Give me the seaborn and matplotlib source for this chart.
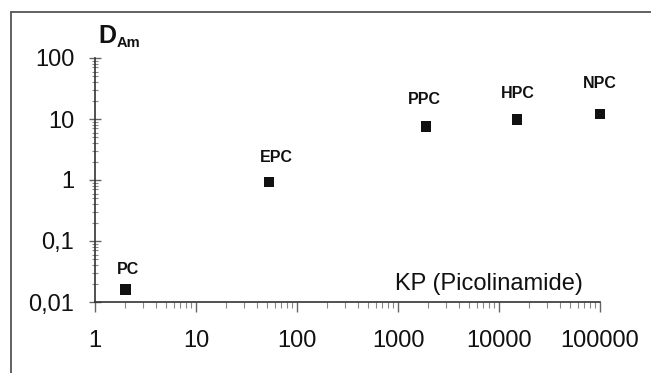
import numpy as np
import pandas as pd
import matplotlib
matplotlib.use('Agg')
import matplotlib.pyplot as plt
import seaborn as sns
from matplotlib.lines import Line2D
from matplotlib.ticker import FixedLocator, FixedFormatter, LogLocator, NullFormatter

# values
ligands = ['PC', 'EPC', 'PPC', 'HPC', 'NPC']
kp = [2, 53, 1900, 15000, 100000]
d_am = [0.016, 0.93, 7.5, 9.8, 12]

x_ticks = [1, 10, 100, 1000, 10000, 100000]
x_labels = ['1', '10', '100', '1000', '10000', '100000']
y_ticks = [0.01, 0.1, 1, 10, 100]
y_labels = ['0,01', '0,1', '1', '10', '100']

df = pd.DataFrame({'ligand': ligands, 'KP': kp, 'D': d_am})

sns.set_style('ticks')
plt.rcParams['font.family'] = ['Liberation Sans', 'DejaVu Sans']
plt.rcParams['text.color'] = '#111111'
plt.rcParams['xtick.labelcolor'] = '#111111'
plt.rcParams['ytick.labelcolor'] = '#111111'

fig = plt.figure(figsize=(6.51, 3.73), dpi=100)
ax = fig.add_axes([95 / 651, 1 - 302 / 373, 505 / 651, 244 / 373])

sns.scatterplot(data=df, x='KP', y='D', marker='s', s=55, color='#111111',
                edgecolor='none', ax=ax, clip_on=False, zorder=5)

ax.set_xscale('log')
ax.set_yscale('log')
ax.set_xlim(1, 1e5)
ax.set_ylim(0.01, 100)

ax.xaxis.set_major_locator(FixedLocator(x_ticks))
ax.xaxis.set_major_formatter(FixedFormatter(x_labels))
ax.yaxis.set_major_locator(FixedLocator(y_ticks))
ax.yaxis.set_major_formatter(FixedFormatter(y_labels))
ax.xaxis.set_minor_locator(LogLocator(base=10, subs=np.arange(2, 10)))
ax.yaxis.set_minor_locator(LogLocator(base=10, subs=np.arange(2, 10)))
ax.xaxis.set_minor_formatter(NullFormatter())
ax.yaxis.set_minor_formatter(NullFormatter())

ax.tick_params(axis='x', which='major', direction='out', length=7, width=1,
               color='#666666', labelcolor='#111111', labelsize=17, pad=13)
ax.tick_params(axis='x', which='minor', direction='out', length=4, width=0.8,
               color='#888888')
ax.tick_params(axis='y', which='major', direction='inout', length=8, width=1,
               color='#666666', labelcolor='#111111', labelsize=17, pad=11)
ax.tick_params(axis='y', which='minor', direction='inout', length=4, width=0.8,
               color='#888888')

sns.despine(ax=ax)
for side in ['left', 'bottom']:
    ax.spines[side].set_color('#333333')
    ax.spines[side].set_linewidth(1.2)

ax.set_xlabel('')
ax.set_ylabel('')

# point labels
label_dy = [9, 12, 14, 13, 17]
label_dx = [2, 5, -1, 1, 0]
for name, x, y, dx, dy in zip(df['ligand'], df['KP'], df['D'], label_dx, label_dy):
    ax.annotate(name, (x, y), xytext=(dx, dy), textcoords='offset points',
                ha='center', va='bottom', fontsize=11.5, fontweight='bold',
                color='#111111', annotation_clip=False)

ax.text(0.966, 0.05, 'KP (Picolinamide)', transform=ax.transAxes,
        ha='right', va='baseline', fontsize=17, color='#111111')
ax.text(0.006, 1.061, 'D', transform=ax.transAxes, ha='left', va='baseline',
        fontsize=18, fontweight='bold', color='#111111')
ax.text(0.042, 1.045, 'Am', transform=ax.transAxes, ha='left', va='baseline',
        fontsize=10.5, fontweight='bold', color='#111111')

# scanned frame (left and top edges visible)
fig.add_artist(Line2D([11 / 651, 11 / 651], [0, 1 - 12 / 373],
                      transform=fig.transFigure, color='#555555', lw=1.3))
fig.add_artist(Line2D([11 / 651, 1], [1 - 12 / 373, 1 - 12 / 373],
                      transform=fig.transFigure, color='#555555', lw=1.3))

fig.savefig('out.png', dpi=100)
